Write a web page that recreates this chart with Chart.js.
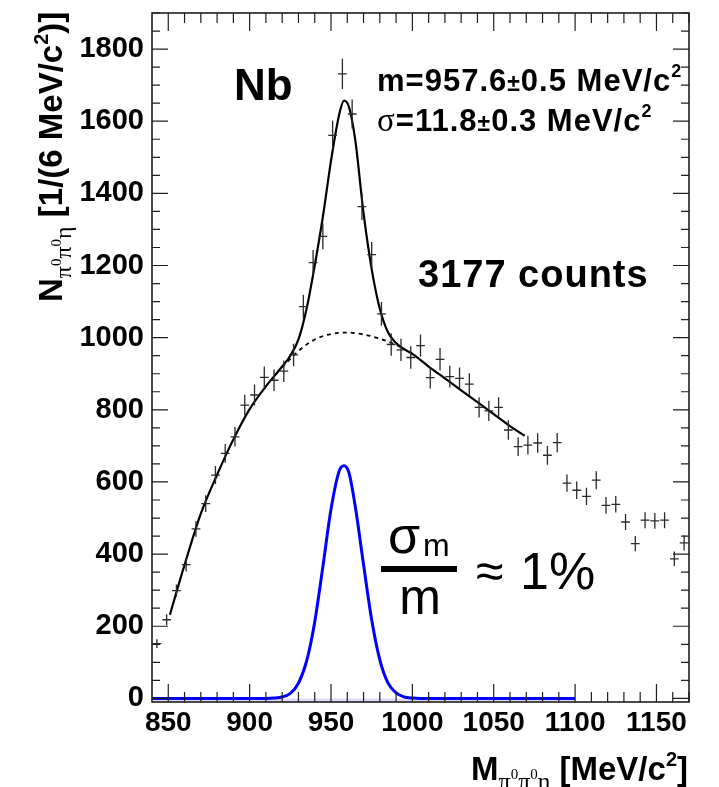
<!DOCTYPE html>
<html>
<head>
<meta charset="utf-8">
<script src="https://cdn.jsdelivr.net/npm/chart.js@4.4.1/dist/chart.umd.min.js"></script>
<style>
  html, body { margin: 0; padding: 0; background: #fff; }
  #wrap { width: 719px; height: 787px; }
</style>
</head>
<body>
<div id="wrap"><canvas id="c" width="719" height="787"></canvas></div>
<script>
// histogram, 6 MeV bins
const binCenters = [843, 849, 855, 861, 867, 873, 879, 885, 891, 897, 903, 909, 915, 921, 927, 933, 939, 945, 951, 957,
  963, 969, 975, 981, 987, 993, 999, 1005, 1011, 1017, 1023, 1029, 1035, 1041, 1047, 1053, 1059, 1065, 1071, 1077,
  1083, 1089, 1095, 1101, 1107, 1113, 1119, 1125, 1131, 1137, 1143, 1149, 1155, 1161, 1167];
const counts = [152, 218, 299, 371, 470, 540, 619, 679, 725, 813, 841, 890, 882, 907, 952, 1086, 1208, 1281, 1561, 1731,
  1620, 1363, 1230, 1066, 981, 966, 945, 978, 889, 940, 892, 887, 871, 807, 797, 807, 744, 698, 702, 708,
  674, 709, 597, 577, 560, 605, 535, 538, 489, 429, 494, 492, 494, 387, 431];
const errs = [12, 15, 17, 19, 22, 23, 25, 26, 27, 29, 29, 30, 30, 30, 31, 33, 35, 36, 40, 42,
  40, 37, 35, 33, 31, 31, 31, 31, 30, 31, 30, 30, 30, 28, 28, 28, 27, 26, 26, 27,
  26, 27, 24, 24, 24, 25, 23, 23, 22, 21, 22, 22, 22, 20, 21];
const xHalf = 2.7;

// fit: signal + background (solid)
const fitX = [851, 860, 870, 880, 890, 900, 910, 920, 925, 930, 935, 940, 945, 950, 955, 958, 961, 965, 970, 975,
  980, 985, 990, 995, 1000, 1010, 1020, 1030, 1040, 1050, 1060, 1069];
const fitY = [232, 370, 512, 620, 718, 802, 865, 920, 950, 995, 1080, 1200, 1335, 1490, 1618, 1657, 1640, 1545, 1345, 1190,
  1080, 1015, 985, 968, 955, 920, 887, 854, 821, 788, 755, 728];

// background only (dashed, under the peak)
const bgX = [920, 930, 940, 950, 960, 970, 980, 990, 1000];
const bgY = [918, 963, 995, 1010, 1014, 1009, 997, 980, 955];

// signal shape (blue)
const sigX = [840, 910, 915, 920, 925, 930, 935, 940, 945, 950, 955, 958, 961, 965, 970, 975, 980, 985, 990, 995, 1000, 1005, 1100];
const sigY = [0, 0, 1, 4, 14, 42, 103, 212, 365, 524, 630, 645, 626, 530, 371, 218, 107, 43, 15, 4, 1, 0, 0];

const xTicks = [850, 900, 950, 1000, 1050, 1100, 1150];
const yTicks = [0, 200, 400, 600, 800, 1000, 1200, 1400, 1600, 1800];

const SANS = '"Liberation Sans", Arial, Helvetica, sans-serif';
const SERIF = '"Liberation Serif", "Times New Roman", serif';

function pts(xs, ys) { return xs.map((x, i) => ({x: x, y: ys[i]})); }

function runs(ctx, x, y, parts) {
  parts.forEach(p => {
    ctx.font = p.f;
    ctx.fillText(p.t, x, y + (p.dy || 0));
    x += ctx.measureText(p.t).width;
  });
  return x;
}
function runsWidth(ctx, parts) {
  let w = 0;
  parts.forEach(p => { ctx.font = p.f; w += ctx.measureText(p.t).width; });
  return w;
}

const rootStyle = {
  id: 'rootStyle',
  afterDatasetsDraw(chart) {
    const {ctx, scales: {x, y}} = chart;
    ctx.save();
    ctx.strokeStyle = '#2a2a2a';
    ctx.lineWidth = 1.3;
    binCenters.forEach((c, i) => {
      const px = x.getPixelForValue(c), py = y.getPixelForValue(counts[i]);
      ctx.beginPath();
      ctx.moveTo(px, y.getPixelForValue(counts[i] - errs[i]));
      ctx.lineTo(px, y.getPixelForValue(counts[i] + errs[i]));
      ctx.moveTo(x.getPixelForValue(c - xHalf), py);
      ctx.lineTo(x.getPixelForValue(c + xHalf), py);
      ctx.stroke();
    });
    ctx.restore();
  },
  afterDraw(chart) {
    const {ctx, chartArea: a, scales: {x, y}} = chart;
    ctx.save();
    // frame
    ctx.strokeStyle = '#1e1e1e';
    ctx.lineWidth = 1.6;
    ctx.strokeRect(a.left, a.top, a.right - a.left, a.bottom - a.top);
    // ticks (inside, all four sides)
    ctx.lineWidth = 1.2;
    ctx.beginPath();
    for (let v = 850; v <= 1170; v += 10) {
      const px = x.getPixelForValue(v);
      const L = (v % 50 === 0) ? 18 : 10;
      ctx.moveTo(px, a.bottom); ctx.lineTo(px, a.bottom - L);
      ctx.moveTo(px, a.top); ctx.lineTo(px, a.top + L);
    }
    for (let v = 0; v <= 1900; v += 50) {
      const py = y.getPixelForValue(v);
      const L = (v % 200 === 0) ? 16 : 8;
      ctx.moveTo(a.left, py); ctx.lineTo(a.left + L, py);
      ctx.moveTo(a.right, py); ctx.lineTo(a.right - L, py);
    }
    ctx.stroke();

    ctx.fillStyle = '#000';
    ctx.textBaseline = 'alphabetic';
    ctx.textAlign = 'left';

    // target label
    ctx.font = `bold 44px ${SANS}`;
    ctx.fillText('Nb', 234, 100);

    // fit results
    ctx.letterSpacing = '1px';
    const b31 = `bold 31px ${SANS}`, pm = `bold 23px ${SANS}`, sup = `bold 18px ${SANS}`;
    runs(ctx, 377, 91, [
      {t: 'm=957.6', f: b31}, {t: '±', f: pm}, {t: '0.5 MeV/c', f: b31}, {t: '2', f: sup, dy: -14}
    ]);
    runs(ctx, 377, 131, [
      {t: 'σ', f: `33px ${SERIF}`}, {t: '=11.8', f: b31}, {t: '±', f: pm}, {t: '0.3 MeV/c', f: b31}, {t: '2', f: sup, dy: -14}
    ]);

    ctx.font = `bold 38px ${SANS}`;
    ctx.fillText('3177 counts', 418, 287);
    ctx.letterSpacing = '0px';

    // resolution
    ctx.font = `52px ${SANS}`;
    ctx.fillText('σ', 388, 553);
    ctx.font = `32px ${SANS}`;
    ctx.fillText('m', 423, 556);
    ctx.fillRect(381, 566, 76, 6);
    ctx.font = `50px ${SANS}`;
    ctx.textAlign = 'center';
    ctx.fillText('m', 420, 614);
    ctx.textAlign = 'left';
    ctx.fillText('≈', 476, 588);
    ctx.font = `52px ${SANS}`;
    ctx.fillText('1%', 520, 589);

    // axis titles
    const b33 = `bold 33px ${SANS}`, s24 = `24px ${SERIF}`, s15 = `15px ${SERIF}`, sup20 = `bold 20px ${SANS}`;
    const sub = [
      {t: 'π', f: s24, dy: 9}, {t: '0', f: s15, dy: -1}, {t: 'π', f: s24, dy: 9}, {t: '0', f: s15, dy: -1}, {t: 'η', f: s24, dy: 9}
    ];
    const xt = [{t: 'M', f: b33}].concat(sub, [{t: ' [MeV/c', f: b33}, {t: '2', f: sup20, dy: -14}, {t: ']', f: b33}]);
    runs(ctx, 688 - runsWidth(ctx, xt), 780, xt);

    const yt = [{t: 'N', f: b33}].concat(sub, [{t: ' [1/(6 MeV/c', f: b33}, {t: '2', f: sup20, dy: -14}, {t: ')]', f: b33}]);
    ctx.translate(62, 302);
    ctx.rotate(-Math.PI / 2);
    runs(ctx, 0, 0, yt);
    ctx.restore();
  }
};

function noPad(s) { s.paddingTop = 0; s.paddingBottom = 0; s.paddingLeft = 0; s.paddingRight = 0; }

new Chart(document.getElementById('c'), {
  type: 'scatter',
  data: {
    datasets: [
      {data: pts(binCenters, counts), pointRadius: 0, showLine: false, order: 5},
      {data: pts(fitX, fitY), showLine: true, borderColor: '#000', borderWidth: 2.2, pointRadius: 0,
        cubicInterpolationMode: 'monotone', order: 1},
      {data: pts(bgX, bgY), showLine: true, borderColor: '#000', borderWidth: 1.8, borderDash: [4, 4], pointRadius: 0,
        cubicInterpolationMode: 'monotone', order: 2},
      {data: pts(sigX, sigY), showLine: true, borderColor: '#0000ff', borderWidth: 3, pointRadius: 0,
        cubicInterpolationMode: 'monotone', order: 3},
      {data: pts([840, 1100], [0, 0]), showLine: true, borderWidth: 0, borderColor: 'rgba(0,0,0,0)',
        backgroundColor: '#dcdcfa', fill: 'start', pointRadius: 0, order: 6}
    ]
  },
  options: {
    responsive: false,
    animation: false,
    devicePixelRatio: 1,
    layout: {padding: {left: 0, right: 30, top: 13, bottom: 0}},
    plugins: {legend: {display: false}, tooltip: {enabled: false}},
    scales: {
      x: {
        type: 'linear', min: 840, max: 1170,
        afterBuildTicks: s => { s.ticks = xTicks.map(v => ({value: v})); },
        afterFit: s => { s.height = 85; noPad(s); },
        grid: {display: false, drawTicks: false},
        border: {display: false},
        ticks: {color: '#000', padding: 4, maxRotation: 0, font: {family: SANS, size: 28, weight: 'bold'},
          callback: v => String(v)}
      },
      y: {
        type: 'linear', min: -10, max: 1900,
        afterBuildTicks: s => { s.ticks = yTicks.map(v => ({value: v})); },
        afterFit: s => { s.width = 152; noPad(s); },
        grid: {display: false, drawTicks: false},
        border: {display: false},
        ticks: {color: '#000', padding: 8, font: {family: SANS, size: 29, weight: 'bold'},
          callback: v => String(v)}
      }
    }
  },
  plugins: [rootStyle]
});
</script>
</body>
</html>
